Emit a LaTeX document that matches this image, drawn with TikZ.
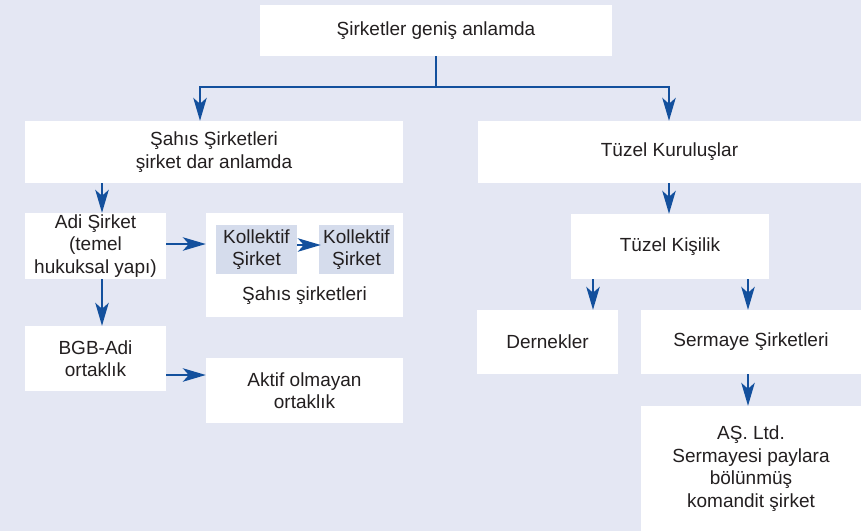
\documentclass[tikz,border=0pt]{standalone}
\usepackage{fontspec}
\setmainfont{Liberation Sans}
\usetikzlibrary{arrows.meta,calc}
\definecolor{bgcol}{HTML}{E4E7F3}
\definecolor{kcol}{HTML}{D5DCEC}
\definecolor{arrcol}{HTML}{13509D}
\definecolor{txtcol}{HTML}{231F20}
\tikzset{
  box/.style={fill=white, inner sep=0pt, align=center, text=txtcol,
    font=\fontsize{19pt}{22.5pt}\selectfont},
  kbox/.style={box, fill=kcol},
  lbl/.style={inner sep=0pt, text=txtcol, font=\fontsize{19pt}{22.5pt}\selectfont},
  arr/.style={draw=arrcol, line width=1.4pt,
    -{Stealth[length=23pt,width=13.5pt,inset=6pt,fill=arrcol]}},
  ln/.style={draw=arrcol, line width=1.4pt}
}
\begin{document}
\begin{tikzpicture}[x=1pt,y=-1pt]
\fill[bgcol] (0,0) rectangle (861,531);
\useasboundingbox (0,0) rectangle (861,531);
% boxes
\node[box, minimum width=352pt, minimum height=51pt] (top) at (436,30.5) {Şirketler geniş anlamda};
\node[box, minimum width=378pt, minimum height=62pt] (sahis) at (214,152) {Şahıs Şirketleri\\şirket dar anlamda};
\node[box, minimum width=383pt, minimum height=62pt] (tuzelk) at (669.5,152) {Tüzel Kuruluşlar};
\node[box, minimum width=141pt, minimum height=66pt] (adi) at (95.5,246) {Adi Şirket\\(temel\\hukuksal yapı)};
\node[box, minimum width=197pt, minimum height=104pt] (group) at (304.5,265) {};
\node[kbox, minimum width=81pt, minimum height=49pt] (k1) at (256.5,249.5) {Kollektif\\Şirket};
\node[kbox, minimum width=75pt, minimum height=49pt] (k2) at (356.5,249.5) {Kollektif\\Şirket};
\node[lbl] (glabel) at (304.5,296) {Şahıs şirketleri};
\node[box, minimum width=141pt, minimum height=65pt] (bgb) at (95.5,358.5) {BGB-Adi\\ortaklık};
\node[box, minimum width=197pt, minimum height=65pt] (aktif) at (304.5,390.5) {Aktif olmayan\\ortaklık};
\node[box, minimum width=198pt, minimum height=65pt] (tkis) at (670,246.5) {Tüzel Kişilik};
\node[box, minimum width=141pt, minimum height=64pt] (dernek) at (547.5,342) {Dernekler};
\node[box, minimum width=220pt, minimum height=64pt] (sermaye) at (751,342) {Sermaye Şirketleri};
\node[box, minimum width=220pt, minimum height=125pt] (as) at (751,468.5) {AŞ. Ltd.\\Sermayesi paylara\\bölünmüş\\komandit şirket};
% connectors
\coordinate (ja) at (200,87);
\coordinate (jb) at (669,87);
\draw[ln] (top.south) -- (top.south |- ja);
\draw[arr] (top.south |- ja) -- (ja) -- (ja |- sahis.north);
\draw[arr] (top.south |- jb) -- (jb) -- (jb |- tuzelk.north);
\draw[arr] ([xshift=6.5pt]adi.north |- sahis.south) -- ([xshift=6.5pt]adi.north);
\draw[arr] ([xshift=6.5pt]adi.south) -- ([xshift=6.5pt]bgb.north);
\draw[arr] ([yshift=2pt]adi.east) -- ([yshift=2pt]adi.east -| group.west);
\draw[arr] ([yshift=4.5pt]k1.east) -- ([yshift=4.5pt,xshift=2pt]k1.east -| k2.west);
\draw[arr] ([yshift=-16.5pt]bgb.east) -- ([yshift=-16.5pt]bgb.east -| aktif.west);
\draw[arr] (tuzelk.south -| jb) -- (jb |- tkis.north);
\draw[arr] ([xshift=-77pt]tkis.south) -- ([xshift=-77pt]tkis.south |- dernek.north);
\draw[arr] ([xshift=78pt]tkis.south) -- ([xshift=78pt]tkis.south |- sermaye.north);
\draw[arr] ([xshift=-3pt]sermaye.south) -- ([xshift=-3pt]as.north);
\end{tikzpicture}
\end{document}
